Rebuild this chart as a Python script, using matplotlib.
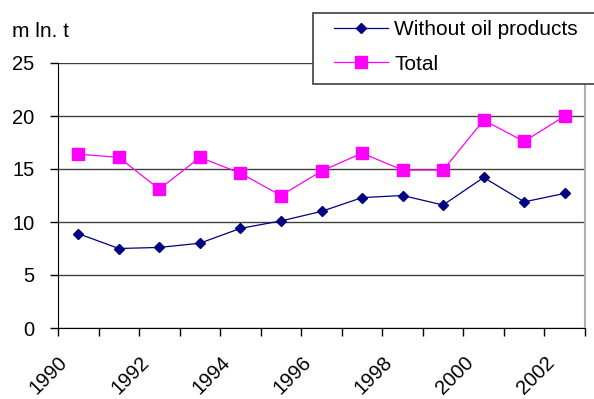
import matplotlib
matplotlib.use("Agg")
import matplotlib.pyplot as plt
from matplotlib.patches import Rectangle
import numpy as np

years = list(range(1990, 2003))
without_oil = [8.9, 7.5, 7.6, 8.0, 9.4, 10.1, 11.0, 12.3, 12.5, 11.6, 14.2, 11.9, 12.7]
total = [16.4, 16.1, 13.1, 16.1, 14.6, 12.5, 14.8, 16.5, 14.9, 14.9, 19.6, 17.6, 20.0]
tick_labels = ["1990", "1992", "1994", "1996", "1998", "2000", "2002"]

plt.rcParams['font.family'] = ['Liberation Sans', 'DejaVu Sans']

W, H = 594, 399
fig = plt.figure(figsize=(W / 100, H / 100), dpi=100)
ax = fig.add_axes([58 / W, 1 - 328 / H, 527 / W, 265 / H])

# points sit in the middle of each category slot
x = np.arange(len(years)) + 0.5
l1, = ax.plot(x, without_oil, color='#000080', marker='D', markersize=5.5, lw=0.9,
              label='Without oil products', zorder=3)
l2, = ax.plot(x, total, color='#ff00ff', marker='s', markersize=8, lw=0.9,
              label='Total', zorder=3)

ax.set_xlim(0, len(years))
ax.set_ylim(0, 25)
ax.set_yticks([0, 5, 10, 15, 20, 25])
ax.set_xticks(np.arange(len(years) + 1))
ax.set_xticklabels([tick_labels[i // 2] if i % 2 == 0 and i // 2 < len(tick_labels) else ''
                    for i in range(len(years) + 1)])
ax.tick_params(axis='x', length=6, width=1, pad=12, labelsize=14.5)
ax.tick_params(axis='y', length=6, width=1, pad=11, labelsize=14.5)
for lab in ax.get_xticklabels():
    lab.set_rotation(45)
    lab.set_ha('right')
    lab.set_va('top')
    lab.set_rotation_mode('anchor')

ax.yaxis.grid(True, color='#404040', lw=1)
ax.set_axisbelow(True)
ax.spines['top'].set_visible(False)
ax.spines['right'].set_color('#b0b0b0')
ax.spines['right'].set_linewidth(1.5)

fig.text(12 / W, 1 - 37 / H, 'm ln. t', fontsize=15)

# legend box runs off the right edge of the figure
box = Rectangle((313 / W, 1 - 84 / H), 320 / W, 71 / H, transform=fig.transFigure,
                facecolor='white', edgecolor='#404040', lw=1.2, zorder=4)
fig.patches.append(box)
leg = fig.legend(handles=[l1, l2], loc='upper left',
                 bbox_to_anchor=(334 / W, 1 - 20 / H), fontsize=15, frameon=False,
                 handlelength=2.6, handletextpad=0.3, labelspacing=0.75,
                 borderpad=0, borderaxespad=0)
leg.set_zorder(5)

fig.savefig('out.png', dpi=100)
